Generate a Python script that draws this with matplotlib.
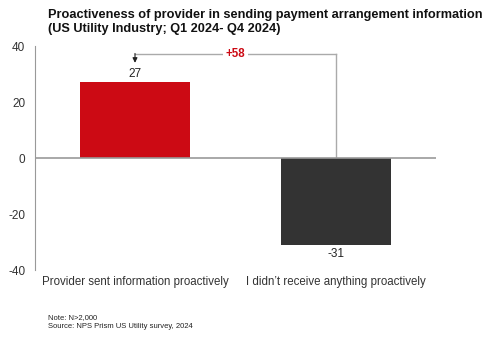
import matplotlib.pyplot as plt

plt.rcParams['font.family'] = ['Liberation Sans', 'DejaVu Sans']
plt.rcParams['axes.unicode_minus'] = False

categories = ['Provider sent information proactively', 'I didn\u2019t receive anything proactively']
values = [27, -31]
bar_colors = ['#CC0A14', '#333333']
diff_label = '+58'

fig = plt.figure(figsize=(5, 3.41), dpi=100)
ax = fig.add_axes([0.07, 0.208, 0.802, 0.657])

x = list(range(len(categories)))
ax.bar(x, values, width=0.55, color=bar_colors, zorder=2)
ax.set_xlim(-0.4975, 1.4975)
ax.set_ylim(-40, 40)
ax.set_yticks([-40, -20, 0, 20, 40])
ax.tick_params(axis='y', length=0, labelsize=8.5, colors='#333333', pad=7)
ax.set_xticks([])
for s in ['top', 'right', 'bottom']:
    ax.spines[s].set_visible(False)
ax.spines['left'].set_color('#999999')
ax.axhline(0, color='#999999', lw=1.2, zorder=3)

# value labels
for xi, v in zip(x, values):
    off = 0.8 if v > 0 else -1.2
    ax.text(xi, v + off, str(v), ha='center', va='bottom' if v > 0 else 'top',
            fontsize=8.5, color='#222222')

# category labels
for xi, c in zip(x, categories):
    ax.text(xi, -42, c, ha='center', va='top', fontsize=8.3, color='#333333', clip_on=False)

# difference bracket
top = 37
ax.plot([x[1], x[1]], [0.5, top], color='#aaaaaa', lw=1, zorder=1)
ax.plot([x[0], x[1]], [top, top], color='#aaaaaa', lw=1, zorder=1)
ax.annotate('', xy=(x[0], values[0] + 7.0), xytext=(x[0], top + 0.35),
            arrowprops=dict(arrowstyle='-|>', color='#222222', lw=0.8,
                            mutation_scale=7, shrinkA=0, shrinkB=0))
ax.text((x[0] + x[1]) / 2, top, diff_label, ha='center', va='center', fontsize=8.3,
        fontweight='bold', color='#CC0A14',
        bbox=dict(facecolor='white', edgecolor='none', pad=2), zorder=4)

fig.text(0.096, 0.935, 'Proactiveness of provider in sending payment arrangement information\n(US Utility Industry; Q1 2024- Q4 2024)',
         ha='left', va='center', fontsize=9.2, fontweight='bold', color='#111111', linespacing=1.25)
fig.text(0.096, 0.055, 'Note: N>2,000\nSource: NPS Prism US Utility survey, 2024',
         ha='left', va='center', fontsize=5.5, color='#222222', linespacing=1.3)

fig.savefig('out.png', dpi=100)
